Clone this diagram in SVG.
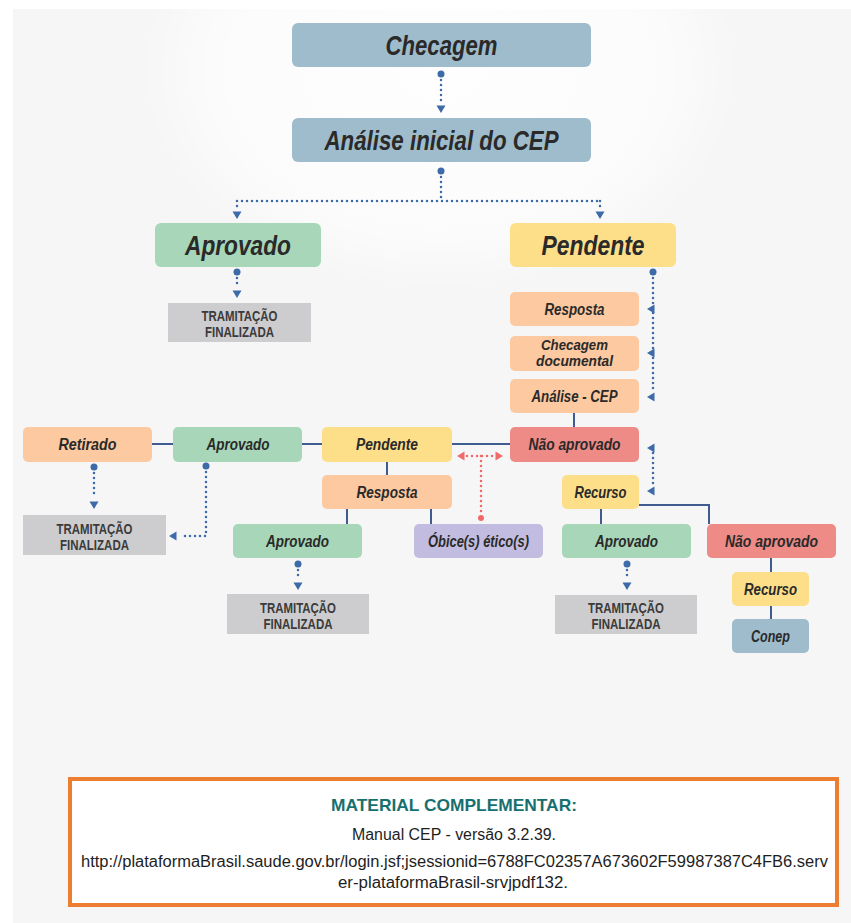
<svg xmlns="http://www.w3.org/2000/svg" xmlns:xlink="http://www.w3.org/1999/xlink" width="851" height="923" viewBox="0 0 851 923">
<defs>
<radialGradient id="glow" cx="0.5" cy="0.5" r="0.5">
<stop offset="0" stop-color="#ffffff" stop-opacity="0.9"/>
<stop offset="0.75" stop-color="#ffffff" stop-opacity="0.6"/>
<stop offset="1" stop-color="#ffffff" stop-opacity="0"/>
</radialGradient>
<path id="tri" d="M0,0 L-4.5,-7.5 L4.5,-7.5 Z"/>
<style>
.lbl{font-family:"Liberation Sans",Arial,sans-serif;font-weight:bold;font-style:italic;fill:#2a2a2a;text-anchor:middle}
.big{font-size:28px}
.sm{font-size:16px}
.tr{font-family:"Liberation Sans",Arial,sans-serif;font-weight:bold;font-size:14px;fill:#3b3b3b;text-anchor:middle}
.blue{fill:#9fbccc}.green{fill:#a7d7b8}.yellow{fill:#fddf8a}.peach{fill:#fdc9a0}.red{fill:#ee8b86}.purple{fill:#c2bde0}.gray{fill:#cdcdcf}
.dot{fill:none;stroke:#3d6aa8;stroke-width:2.5;stroke-linecap:round;stroke-dasharray:0 5}
.rdot{fill:none;stroke:#ef6b6b;stroke-width:2.5;stroke-linecap:round;stroke-dasharray:0 5}
.solid{fill:none;stroke:#3f5b8f;stroke-width:2}
.ab{fill:#3d6aa8}.ar{fill:#ef6b6b}
.ft{font-family:"Liberation Sans",Arial,sans-serif;font-size:16px;fill:#1e1e1e;text-anchor:middle}
</style>
</defs>
<rect x="13" y="9" width="838" height="914" fill="#f6f6f6"/>
<ellipse cx="440" cy="70" rx="300" ry="220" fill="url(#glow)"/>

<g id="connectors">
<circle cx="441" cy="74" r="3.5" class="ab"/>
<path class="dot" d="M441,80 V104"/>
<use xlink:href="#tri" class="ab" transform="translate(441,113)"/>
<circle cx="441" cy="171" r="3.5" class="ab"/>
<path class="dot" d="M441,177 V201 M237,201 H600 M237,201 V207 M600,201 V207"/>
<use xlink:href="#tri" class="ab" transform="translate(237,219)"/>
<use xlink:href="#tri" class="ab" transform="translate(600,219)"/>
<circle cx="237" cy="272" r="3.5" class="ab"/>
<path class="dot" d="M237,278 V288"/>
<use xlink:href="#tri" class="ab" transform="translate(237,298)"/>
<circle cx="653" cy="272" r="3.5" class="ab"/>
<path class="dot" d="M653,278 V393"/>
<use xlink:href="#tri" class="ab" transform="translate(647,309) rotate(90)"/>
<use xlink:href="#tri" class="ab" transform="translate(647,353) rotate(90)"/>
<use xlink:href="#tri" class="ab" transform="translate(647,397) rotate(90)"/>
<path class="dot" d="M653,453 V487"/>
<use xlink:href="#tri" class="ab" transform="translate(647,448) rotate(90)"/>
<use xlink:href="#tri" class="ab" transform="translate(647,491) rotate(90)"/>
<circle cx="94" cy="467" r="3.5" class="ab"/>
<path class="dot" d="M94,473 V498"/>
<use xlink:href="#tri" class="ab" transform="translate(94,509)"/>
<circle cx="206" cy="466" r="3.5" class="ab"/>
<path class="dot" d="M206,472 V536 H180"/>
<use xlink:href="#tri" class="ab" transform="translate(169,536) rotate(90)"/>
<circle cx="298" cy="564" r="3.5" class="ab"/>
<path class="dot" d="M298,570 V580"/>
<use xlink:href="#tri" class="ab" transform="translate(298,590)"/>
<circle cx="627" cy="564" r="3.5" class="ab"/>
<path class="dot" d="M627,570 V580"/>
<use xlink:href="#tri" class="ab" transform="translate(627,590)"/>
<path class="rdot" d="M467,456 H494 M481,456 V512"/>
<circle cx="481" cy="518" r="3" class="ar"/>
<use xlink:href="#tri" class="ar" transform="translate(457,456) rotate(90)"/>
<use xlink:href="#tri" class="ar" transform="translate(503,456) rotate(-90)"/>
<path class="solid" d="M574,413 V427 M152,444 H173 M302,444 H322 M452,444 H510 M387,462 V475 M347,509 V524 M431,509 V524 M601,509 V524 M639,505 H709 V524 M771,558 V572 M771,606 V619"/>
</g>

<g id="n-checagem"><rect x="292" y="23" width="299" height="44" rx="6" class="blue"/><text class="lbl big" x="441.5" y="55" textLength="112" lengthAdjust="spacingAndGlyphs">Checagem</text></g>
<g id="n-analise-inicial"><rect x="292" y="118" width="299" height="44" rx="6" class="blue"/><text class="lbl big" x="441.5" y="150" textLength="234" lengthAdjust="spacingAndGlyphs">Análise inicial do CEP</text></g>
<g id="n-aprovado"><rect x="155" y="223" width="166" height="44" rx="6" class="green"/><text class="lbl big" x="238" y="255" textLength="106" lengthAdjust="spacingAndGlyphs">Aprovado</text></g>
<g id="n-pendente"><rect x="510" y="223" width="166" height="44" rx="6" class="yellow"/><text class="lbl big" x="593" y="255" textLength="103" lengthAdjust="spacingAndGlyphs">Pendente</text></g>
<g id="n-tram1"><rect x="168" y="303" width="143" height="39" class="gray"/><text class="tr" x="239.5" y="321" textLength="76" lengthAdjust="spacingAndGlyphs">TRAMITAÇÃO</text><text class="tr" x="239.5" y="337" textLength="69" lengthAdjust="spacingAndGlyphs">FINALIZADA</text></g>
<g id="n-resposta"><rect x="510" y="292" width="129" height="34" rx="5" class="peach"/><text class="lbl sm" x="574.5" y="314.5" textLength="60" lengthAdjust="spacingAndGlyphs">Resposta</text></g>
<g id="n-checagem-doc"><rect x="510" y="336" width="129" height="35" rx="5" class="peach"/><text class="lbl" style="font-size:14.5px" x="574.5" y="349.5" textLength="67" lengthAdjust="spacingAndGlyphs">Checagem</text><text class="lbl" style="font-size:14.5px" x="574.5" y="366" textLength="77" lengthAdjust="spacingAndGlyphs">documental</text></g>
<g id="n-analise-cep"><rect x="510" y="379" width="129" height="34" rx="5" class="peach"/><text class="lbl sm" x="574.5" y="401.5" textLength="86" lengthAdjust="spacingAndGlyphs">Análise - CEP</text></g>
<g id="n-nao-aprovado"><rect x="510" y="427" width="129" height="35" rx="5" class="red"/><text class="lbl sm" x="574.5" y="450" textLength="92" lengthAdjust="spacingAndGlyphs">Não aprovado</text></g>
<g id="n-retirado"><rect x="23" y="427" width="129" height="35" rx="5" class="peach"/><text class="lbl sm" x="87.5" y="450" textLength="58" lengthAdjust="spacingAndGlyphs">Retirado</text></g>
<g id="n-aprovado2"><rect x="173" y="427" width="129" height="35" rx="5" class="green"/><text class="lbl sm" x="238" y="450" textLength="63" lengthAdjust="spacingAndGlyphs">Aprovado</text></g>
<g id="n-pendente2"><rect x="322" y="427" width="130" height="35" rx="5" class="yellow"/><text class="lbl sm" x="387" y="450" textLength="62" lengthAdjust="spacingAndGlyphs">Pendente</text></g>
<g id="n-resposta2"><rect x="322" y="475" width="130" height="34" rx="5" class="peach"/><text class="lbl sm" x="387" y="497.5" textLength="61" lengthAdjust="spacingAndGlyphs">Resposta</text></g>
<g id="n-aprovado3"><rect x="233" y="524" width="129" height="34" rx="5" class="green"/><text class="lbl sm" x="297.5" y="546.5" textLength="63" lengthAdjust="spacingAndGlyphs">Aprovado</text></g>
<g id="n-obice"><rect x="414" y="524" width="129" height="34" rx="5" class="purple"/><text class="lbl sm" x="478.5" y="546.5" textLength="101" lengthAdjust="spacingAndGlyphs">Óbice(s) ético(s)</text></g>
<g id="n-tram2"><rect x="23" y="515" width="143" height="40" class="gray"/><text class="tr" x="94.5" y="534" textLength="76" lengthAdjust="spacingAndGlyphs">TRAMITAÇÃO</text><text class="tr" x="94.5" y="550" textLength="69" lengthAdjust="spacingAndGlyphs">FINALIZADA</text></g>
<g id="n-tram3"><rect x="227" y="594" width="142" height="40" class="gray"/><text class="tr" x="298" y="613" textLength="76" lengthAdjust="spacingAndGlyphs">TRAMITAÇÃO</text><text class="tr" x="298" y="629" textLength="69" lengthAdjust="spacingAndGlyphs">FINALIZADA</text></g>
<g id="n-recurso"><rect x="562" y="475" width="77" height="34" rx="5" class="yellow"/><text class="lbl sm" x="600.5" y="497.5" textLength="52" lengthAdjust="spacingAndGlyphs">Recurso</text></g>
<g id="n-aprovado4"><rect x="562" y="524" width="129" height="34" rx="5" class="green"/><text class="lbl sm" x="626.5" y="546.5" textLength="63" lengthAdjust="spacingAndGlyphs">Aprovado</text></g>
<g id="n-nao-aprovado2"><rect x="707" y="524" width="129" height="34" rx="5" class="red"/><text class="lbl sm" x="771.5" y="546.5" textLength="93" lengthAdjust="spacingAndGlyphs">Não aprovado</text></g>
<g id="n-tram4"><rect x="555" y="595" width="142" height="39" class="gray"/><text class="tr" x="626" y="613" textLength="76" lengthAdjust="spacingAndGlyphs">TRAMITAÇÃO</text><text class="tr" x="626" y="629" textLength="69" lengthAdjust="spacingAndGlyphs">FINALIZADA</text></g>
<g id="n-recurso2"><rect x="732" y="572" width="77" height="34" rx="5" class="yellow"/><text class="lbl sm" x="770.5" y="594.5" textLength="53" lengthAdjust="spacingAndGlyphs">Recurso</text></g>
<g id="n-conep"><rect x="732" y="619" width="77" height="34" rx="5" class="blue"/><text class="lbl sm" x="770.5" y="641.5" textLength="39" lengthAdjust="spacingAndGlyphs">Conep</text></g>

<g id="material">
<rect x="70" y="779" width="767" height="126" fill="#ffffff" stroke="#ed7d31" stroke-width="4"/>
<text class="ft" x="454" y="811" style="font-weight:bold;font-size:17px;fill:#17706f" textLength="246" lengthAdjust="spacingAndGlyphs">MATERIAL COMPLEMENTAR:</text>
<text class="ft" x="454" y="840" textLength="204" lengthAdjust="spacingAndGlyphs">Manual CEP - versão 3.2.39.</text>
<text class="ft" x="454.5" y="867" textLength="747" lengthAdjust="spacingAndGlyphs">http://plataformaBrasil.saude.gov.br/login.jsf;jsessionid=6788FC02357A673602F59987387C4FB6.serv</text>
<text class="ft" x="453" y="888" textLength="230" lengthAdjust="spacingAndGlyphs">er-plataformaBrasil-srvjpdf132.</text>
</g>
</svg>
